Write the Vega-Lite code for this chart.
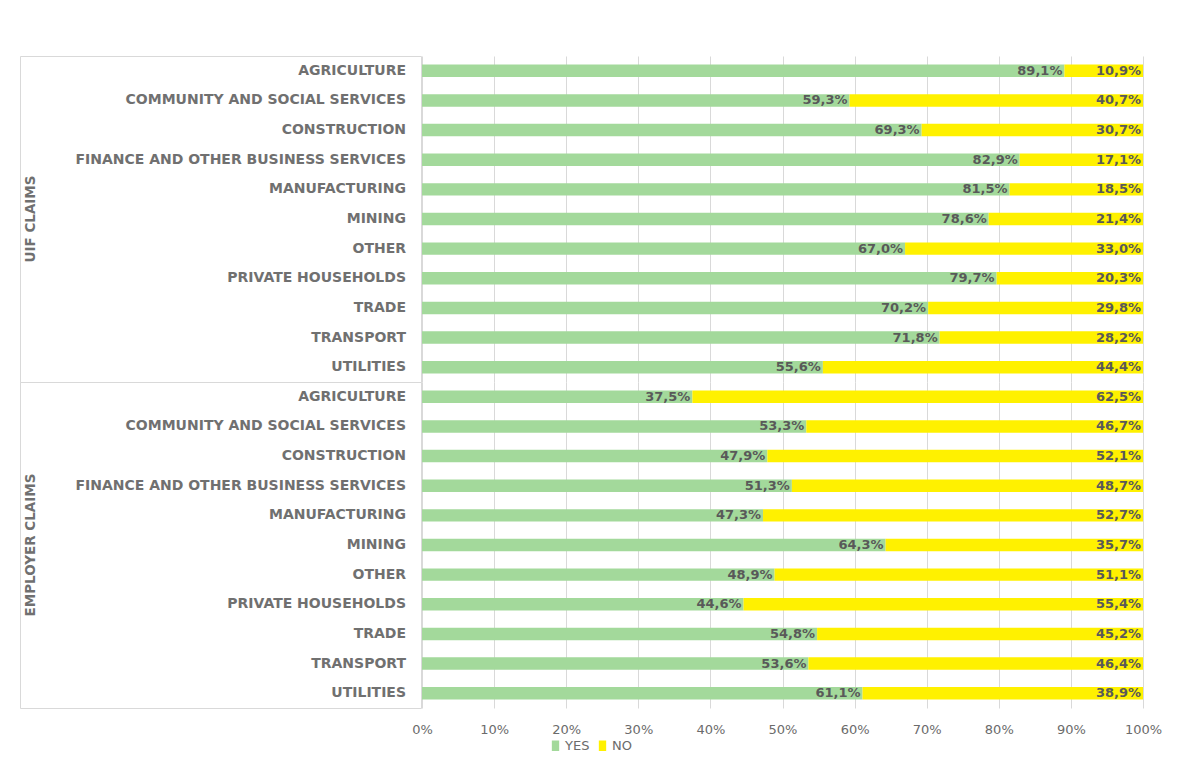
{
  "$schema": "https://vega.github.io/schema/vega-lite/v6.json",
  "padding": {"top": 55, "left": 19, "right": 5, "bottom": 5},
  "background": "white",
  "config": {
    "font": "DejaVu Sans",
    "view": {"stroke": null},
    "locale": {"number": {"decimal": ",", "thousands": ".", "grouping": [3], "currency": ["", " €"]}},
    "legend": {"layout": {"bottom": {"anchor": "middle"}}}
  },
  "datasets": {
    "claims": [
      {"group": "UIF CLAIMS", "category": "AGRICULTURE", "answer": "YES", "value": 0.891},
      {"group": "UIF CLAIMS", "category": "AGRICULTURE", "answer": "NO", "value": 0.109},
      {"group": "UIF CLAIMS", "category": "COMMUNITY AND SOCIAL SERVICES", "answer": "YES", "value": 0.593},
      {"group": "UIF CLAIMS", "category": "COMMUNITY AND SOCIAL SERVICES", "answer": "NO", "value": 0.407},
      {"group": "UIF CLAIMS", "category": "CONSTRUCTION", "answer": "YES", "value": 0.693},
      {"group": "UIF CLAIMS", "category": "CONSTRUCTION", "answer": "NO", "value": 0.307},
      {"group": "UIF CLAIMS", "category": "FINANCE AND OTHER BUSINESS SERVICES", "answer": "YES", "value": 0.829},
      {"group": "UIF CLAIMS", "category": "FINANCE AND OTHER BUSINESS SERVICES", "answer": "NO", "value": 0.171},
      {"group": "UIF CLAIMS", "category": "MANUFACTURING", "answer": "YES", "value": 0.815},
      {"group": "UIF CLAIMS", "category": "MANUFACTURING", "answer": "NO", "value": 0.185},
      {"group": "UIF CLAIMS", "category": "MINING", "answer": "YES", "value": 0.786},
      {"group": "UIF CLAIMS", "category": "MINING", "answer": "NO", "value": 0.214},
      {"group": "UIF CLAIMS", "category": "OTHER", "answer": "YES", "value": 0.670},
      {"group": "UIF CLAIMS", "category": "OTHER", "answer": "NO", "value": 0.330},
      {"group": "UIF CLAIMS", "category": "PRIVATE HOUSEHOLDS", "answer": "YES", "value": 0.797},
      {"group": "UIF CLAIMS", "category": "PRIVATE HOUSEHOLDS", "answer": "NO", "value": 0.203},
      {"group": "UIF CLAIMS", "category": "TRADE", "answer": "YES", "value": 0.702},
      {"group": "UIF CLAIMS", "category": "TRADE", "answer": "NO", "value": 0.298},
      {"group": "UIF CLAIMS", "category": "TRANSPORT", "answer": "YES", "value": 0.718},
      {"group": "UIF CLAIMS", "category": "TRANSPORT", "answer": "NO", "value": 0.282},
      {"group": "UIF CLAIMS", "category": "UTILITIES", "answer": "YES", "value": 0.556},
      {"group": "UIF CLAIMS", "category": "UTILITIES", "answer": "NO", "value": 0.444},
      {"group": "EMPLOYER CLAIMS", "category": "AGRICULTURE", "answer": "YES", "value": 0.375},
      {"group": "EMPLOYER CLAIMS", "category": "AGRICULTURE", "answer": "NO", "value": 0.625},
      {"group": "EMPLOYER CLAIMS", "category": "COMMUNITY AND SOCIAL SERVICES", "answer": "YES", "value": 0.533},
      {"group": "EMPLOYER CLAIMS", "category": "COMMUNITY AND SOCIAL SERVICES", "answer": "NO", "value": 0.467},
      {"group": "EMPLOYER CLAIMS", "category": "CONSTRUCTION", "answer": "YES", "value": 0.479},
      {"group": "EMPLOYER CLAIMS", "category": "CONSTRUCTION", "answer": "NO", "value": 0.521},
      {"group": "EMPLOYER CLAIMS", "category": "FINANCE AND OTHER BUSINESS SERVICES", "answer": "YES", "value": 0.513},
      {"group": "EMPLOYER CLAIMS", "category": "FINANCE AND OTHER BUSINESS SERVICES", "answer": "NO", "value": 0.487},
      {"group": "EMPLOYER CLAIMS", "category": "MANUFACTURING", "answer": "YES", "value": 0.473},
      {"group": "EMPLOYER CLAIMS", "category": "MANUFACTURING", "answer": "NO", "value": 0.527},
      {"group": "EMPLOYER CLAIMS", "category": "MINING", "answer": "YES", "value": 0.643},
      {"group": "EMPLOYER CLAIMS", "category": "MINING", "answer": "NO", "value": 0.357},
      {"group": "EMPLOYER CLAIMS", "category": "OTHER", "answer": "YES", "value": 0.489},
      {"group": "EMPLOYER CLAIMS", "category": "OTHER", "answer": "NO", "value": 0.511},
      {"group": "EMPLOYER CLAIMS", "category": "PRIVATE HOUSEHOLDS", "answer": "YES", "value": 0.446},
      {"group": "EMPLOYER CLAIMS", "category": "PRIVATE HOUSEHOLDS", "answer": "NO", "value": 0.554},
      {"group": "EMPLOYER CLAIMS", "category": "TRADE", "answer": "YES", "value": 0.548},
      {"group": "EMPLOYER CLAIMS", "category": "TRADE", "answer": "NO", "value": 0.452},
      {"group": "EMPLOYER CLAIMS", "category": "TRANSPORT", "answer": "YES", "value": 0.536},
      {"group": "EMPLOYER CLAIMS", "category": "TRANSPORT", "answer": "NO", "value": 0.464},
      {"group": "EMPLOYER CLAIMS", "category": "UTILITIES", "answer": "YES", "value": 0.611},
      {"group": "EMPLOYER CLAIMS", "category": "UTILITIES", "answer": "NO", "value": 0.389}
    ]
  },
  "spacing": -12,
  "hconcat": [
    {
      "data": {"name": "claims"},
      "transform": [{"filter": "datum.answer == 'YES'"}],
      "bounds": "flush",
      "facet": {
        "row": {
          "field": "group",
          "type": "nominal",
          "sort": ["UIF CLAIMS", "EMPLOYER CLAIMS"],
          "header": {
            "title": null,
            "labelOrient": "left",
            "labelAngle": -90,
            "labelFont": "DejaVu Sans",
            "labelFontSize": 13.5,
            "labelFontWeight": "bold",
            "labelColor": "#707070",
            "labelPadding": -24
          }
        }
      },
      "spacing": {"row": 0},
      "spec": {
        "width": 401,
        "height": 326,
        "view": {"stroke": "#d9d9d9", "strokeWidth": 1},
        "mark": {"type": "text", "align": "right", "dx": -15, "fontSize": 14, "fontWeight": "bold", "color": "#707070", "font": "DejaVu Sans"},
        "encoding": {
          "y": {"field": "category", "type": "nominal", "sort": null, "axis": null, "scale": {"paddingInner": 0.58, "paddingOuter": 0.29}},
          "x": {"value": "width"},
          "text": {"field": "category"}
        }
      }
    },
    {
      "data": {"name": "claims"},
      "bounds": "flush",
      "facet": {
        "row": {
          "field": "group",
          "type": "nominal",
          "sort": ["UIF CLAIMS", "EMPLOYER CLAIMS"],
          "header": null
        }
      },
      "spacing": {"row": 0},
      "spec": {
        "width": 721,
        "height": 326,
        "encoding": {
          "y": {"field": "category", "type": "nominal", "sort": null, "axis": null, "scale": {"paddingInner": 0.58, "paddingOuter": 0.29}},
          "x": {
            "field": "value",
            "type": "quantitative",
            "stack": "zero",
            "scale": {"domain": [0, 1], "nice": false},
            "axis": {
              "title": null,
              "format": ".0%",
              "values": [0, 0.1, 0.2, 0.3, 0.4, 0.5, 0.6, 0.7, 0.8, 0.9, 1],
              "grid": true,
              "gridColor": "#d9d9d9",
              "domain": false,
              "ticks": false,
              "labelFlush": false,
              "labelPadding": 15,
              "labelFontSize": 13,
              "labelColor": "#6b6b6b",
              "labelFont": "DejaVu Sans"
            }
          },
          "order": {"field": "answer", "sort": "descending"}
        },
        "layer": [
          {
            "mark": {"type": "bar"},
            "encoding": {
              "color": {
                "field": "answer",
                "type": "nominal",
                "scale": {"domain": ["YES", "NO"], "range": ["#a3d99b", "#fff100"]},
                "legend": {
                  "title": null,
                  "orient": "bottom",
                  "direction": "horizontal",
                  "symbolType": "M-0.7,-1H0.7V1H-0.7Z",
                  "symbolSize": 110,
                  "symbolStrokeWidth": 0,
                  "labelFontSize": 13,
                  "labelColor": "#6b6b6b",
                  "labelFont": "DejaVu Sans",
                  "columnPadding": 6,
                  "labelOffset": 3,
                  "offset": 3,
                  "padding": 0
                }
              }
            }
          },
          {
            "mark": {"type": "text", "align": "right", "dx": -2, "fontSize": 13, "fontWeight": "bold", "color": "#595959", "font": "DejaVu Sans"},
            "encoding": {
              "text": {"field": "value", "type": "quantitative", "format": ".1%"}
            }
          }
        ]
      }
    }
  ]
}
